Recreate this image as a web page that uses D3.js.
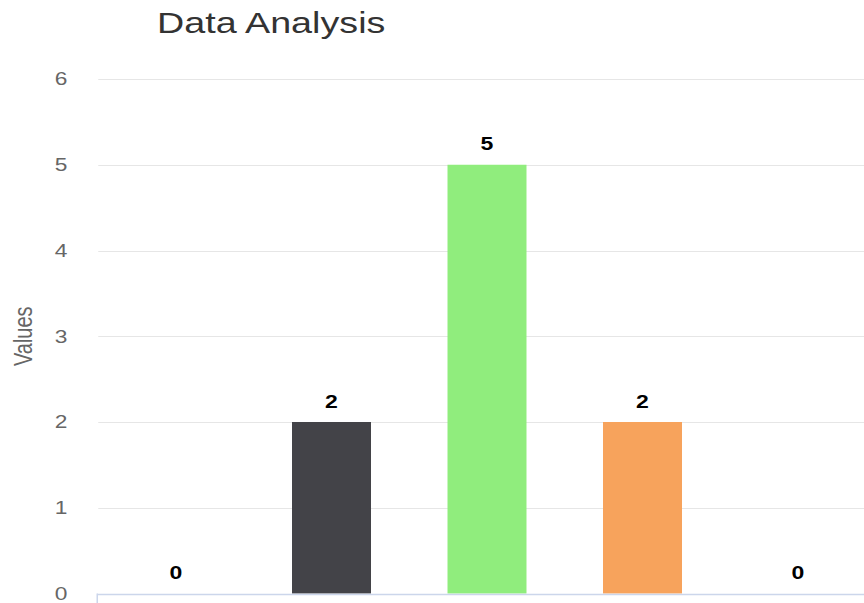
<!DOCTYPE html>
<html>
<head>
<meta charset="utf-8">
<script src="https://cdn.jsdelivr.net/npm/d3@7"></script>
<style>
  html, body { margin: 0; padding: 0; background: #fff; overflow: hidden; }
  svg { display: block; font-family: "Liberation Sans", Arial, Helvetica, sans-serif; }
</style>
</head>
<body>
<svg id="chart" width="864" height="603"></svg>
<script>
// ---- data ----
const categories = ["A", "B", "C", "D", "E"];
const values = [0, 2, 5, 2, 0];
const colors = ["#7cb5ec", "#434348", "#90ed7d", "#f7a35c", "#8085e9"];
const yTicks = [0, 1, 2, 3, 4, 5, 6];
const titleText = "Data Analysis";
const yAxisTitle = "Values";

// ---- layout ----
const W = 864, H = 603;
const SX = 1.3; // horizontal stretch of text glyphs
const plot = { left: 98.25, right: 875.75, top: 79, bottom: 593.5 };

const svg = d3.select("#chart");

const x = d3.scaleBand().domain(categories).range([plot.left, plot.right]).padding(0);
const y = d3.scaleLinear().domain([0, 6]).range([plot.bottom, plot.top]);
const barW = x.bandwidth() * 0.508;

// gridlines
svg.append("g").selectAll("line").data(yTicks.filter(d => d > 0)).join("line")
  .attr("x1", plot.left).attr("x2", W + 20)
  .attr("y1", d => Math.round(y(d)) + 0.5).attr("y2", d => Math.round(y(d)) + 0.5)
  .attr("stroke", "#e6e6e6").attr("stroke-width", 1);

// y tick labels
svg.append("g").selectAll("text").data(yTicks).join("text")
  .attr("transform", d => `translate(67.5,${y(d) + 6.3}) scale(${SX},1)`)
  .attr("text-anchor", "end")
  .attr("font-size", 17.5)
  .attr("fill", "#666666")
  .text(d => d);

// bars
svg.append("g").selectAll("rect").data(values).join("rect")
  .attr("x", (d, i) => x(categories[i]) + x.bandwidth() / 2 - barW / 2)
  .attr("width", barW)
  .attr("y", d => y(d))
  .attr("height", d => y(0) - y(d))
  .attr("fill", (d, i) => colors[i]);

// x axis line
svg.append("line")
  .attr("x1", plot.left - 1).attr("x2", W + 20)
  .attr("y1", Math.round(plot.bottom) + 0.5).attr("y2", Math.round(plot.bottom) + 0.5)
  .attr("stroke", "#ccd6eb").attr("stroke-width", 1.5);
svg.append("line")
  .attr("x1", plot.left - 1).attr("x2", plot.left - 1)
  .attr("y1", plot.bottom).attr("y2", H + 10)
  .attr("stroke", "#ccd6eb").attr("stroke-width", 1.5);

// data labels
svg.append("g").selectAll("text").data(values).join("text")
  .attr("transform", (d, i) => `translate(${x(categories[i]) + x.bandwidth() / 2},${y(d) - 14.5}) scale(${SX},1)`)
  .attr("text-anchor", "middle")
  .attr("font-size", 17.7)
  .attr("font-weight", "bold")
  .attr("fill", "#000000")
  .text(d => d);

// y axis title
svg.append("text")
  .attr("transform", `translate(32,${(plot.top + plot.bottom) / 2}) scale(${SX},1) rotate(-90)`)
  .attr("text-anchor", "middle")
  .attr("font-size", 20)
  .attr("fill", "#666666")
  .text(yAxisTitle);

// title
svg.append("text")
  .attr("transform", `translate(157,32.5) scale(${SX},1)`)
  .attr("text-anchor", "start")
  .attr("font-size", 29)
  .attr("fill", "#333333")
  .text(titleText);
</script>
</body>
</html>
